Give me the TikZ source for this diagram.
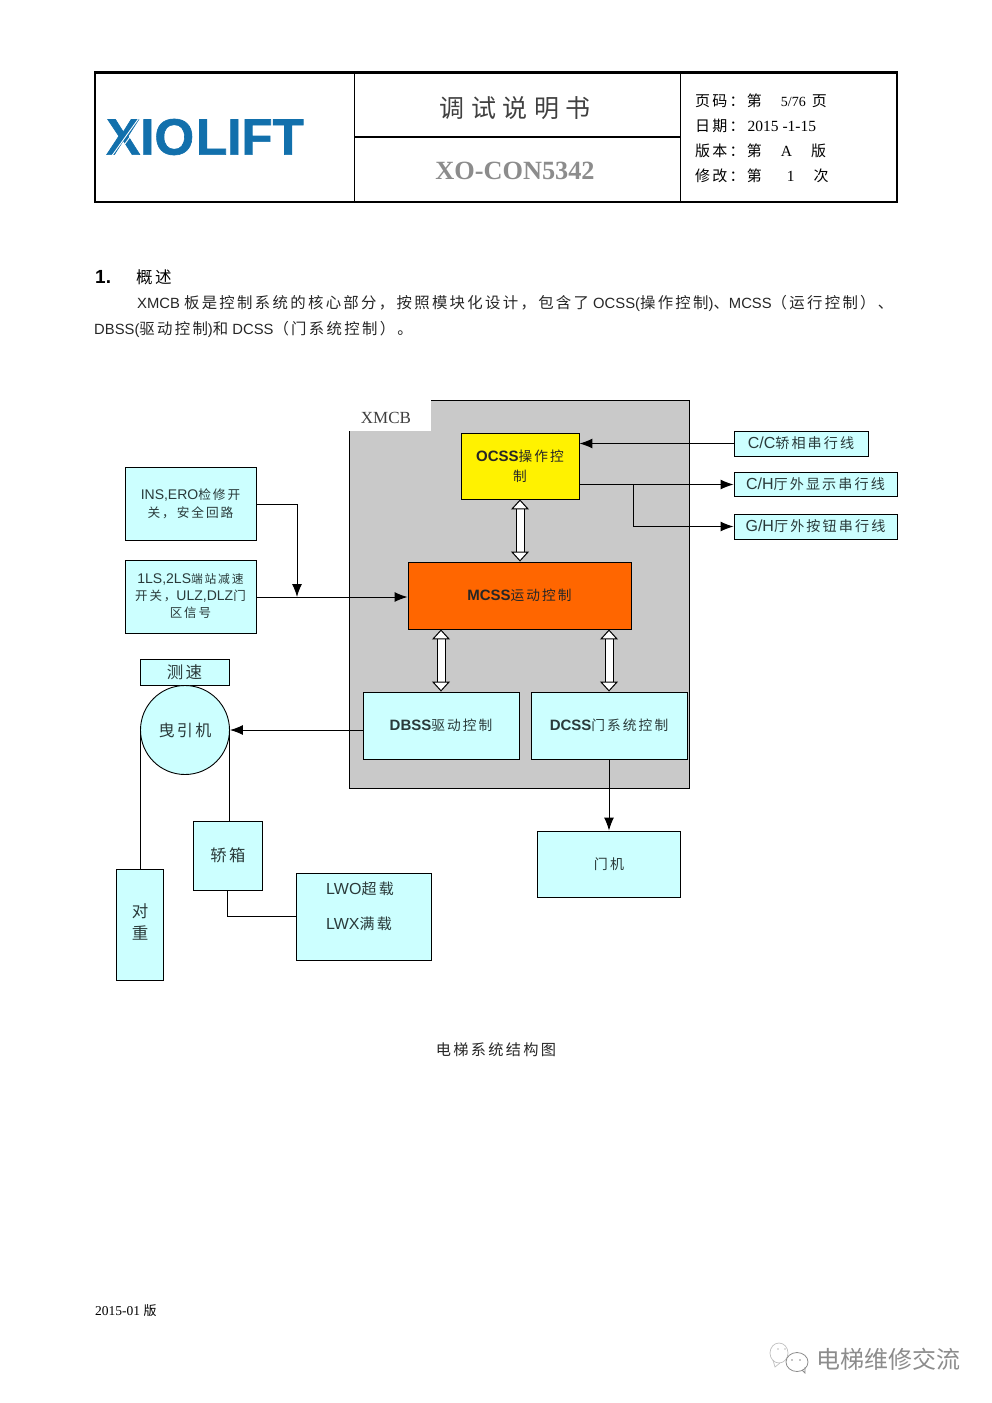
\documentclass[tikz,border=0pt]{standalone}
\usepackage{fontspec}
\usetikzlibrary{arrows.meta,calc}
\setmainfont{Liberation Sans}
\newfontfamily\zhf[LetterSpace=15]{Noto Sans CJK SC}
\newfontfamily\zhn{Noto Sans CJK SC}
\newfontfamily\serf{Liberation Serif}
\newfontfamily\logof[FakeBold=1.2]{Liberation Sans}
\newcommand{\fs}[1]{\fontsize{#1}{#1}\selectfont}
\newcommand{\zh}[2][\zhsize]{{\fs{#1}\zhf #2}}
\newcommand{\zhsize}{15}
\definecolor{lcyan}{HTML}{CCFFFF}
\definecolor{lgray}{HTML}{C9C9C9}
\definecolor{logoblue}{HTML}{1270AC}
\definecolor{ink}{HTML}{2A3A3A}
\definecolor{mcssorange}{HTML}{FF6600}
\tikzset{
  lbox/.style={draw=black,line width=0.9pt,fill=lcyan,inner sep=0pt,align=center,text=ink,font=\fs{15}},
  sigline/.style={draw=black,line width=1pt},
  sig/.style={sigline,-{Latex[length=13pt,width=10pt]}},
  dbl/.style={line width=1pt,double=white,double distance=7pt,{Triangle[length=10pt,width=18pt,fill=white,line width=1pt]}-{Triangle[length=10pt,width=18pt,fill=white,line width=1pt]}},
  txt/.style={inner sep=0pt,anchor=west,text=black},
  hdr/.style={inner sep=0pt,anchor=west,text=black,font=\fs{15.5}\serf},
}
\begin{document}
\begin{tikzpicture}[x=1pt,y=-1pt]
\useasboundingbox (0,0) rectangle (992,1403);
% header
\draw[line width=2pt] (95,72) rectangle (897,202);
\draw[line width=3pt] (94,72) -- (898,72);
\draw[line width=1pt] (354,72) -- (354,202) (680,72) -- (680,202);
\draw[line width=1.6pt] (354,137) -- (680,137);
\node[inner sep=0pt,text=logoblue,font=\fs{51}\logof\bfseries] (logo) at (205,137) {XIO\hspace{2pt}LIFT};
\draw[white,line width=0.9pt] (111,157) -- (139,118) (115.5,157) -- (143.5,118);
\node[inner sep=0pt,font=\fs{25}\zhf,text=black!75] (title) at (515,108) {调\hspace{6.5pt}试\hspace{6.5pt}说\hspace{6.5pt}明\hspace{6.5pt}书};
\node[inner sep=0pt,font=\fs{26.3}\serf\bfseries,text=black!45] (code) at (515,171) {XO-CON5342};
\node[hdr] (h1) at (695,101) {\zh{页码：第}\hspace{19pt}{\fs{14}5/76}\hspace{6pt}\zh{页}};
\node[hdr] (h2) at (695,126) {\zh{日期：}\hspace{3pt}2015 -1-15};
\node[hdr] (h3) at (695,151) {\zh{版本：第}\hspace{19pt}A\hspace{19pt}\zh{版}};
\node[hdr] (h4) at (695,176) {\zh{修改：第}\hspace{25pt}1\hspace{19pt}\zh{次}};
% text
\node[txt,font=\fs{19}\bfseries] (n1) at (95,277) {1.};
\node[txt,font=\fs{16.5}\zhf] (n2) at (136,277) {概述};
\renewcommand{\zhsize}{15.4}
\node[txt,font=\fs{14.8},text=black!85] (p1) at (137,303) {XMCB \zh{板是控制系统的核心部分，按照模块化设计，包含了} OCSS(\zh{操作控制})\zh{、}MCSS\zh{（运行控制）、}};
\node[txt,font=\fs{14.8},text=black!85] (p2) at (94,329) {DBSS(\zh{驱动控制})\zh{和} DCSS\zh{（门系统控制）。}};
% XMCB
\fill[lgray] (349,400) rectangle (689,788);
\draw[line width=0.9pt] (349,431) -- (349,788) -- (689,788) -- (689,400) -- (431,400);
\fill[white] (349,399) rectangle (431,431);
\node[inner sep=0pt,font=\fs{17}\serf,text=black!75] (xmcb) at (386,418) {XMCB};
% boxes
\renewcommand{\zhsize}{13.7}
\node[lbox,fill=yellow,minimum width=118pt,minimum height=66pt,text=black!85] (ocss) at (520,466) {\textbf{OCSS}\zh{操作控}\\[5pt]\zh{制}};
\node[lbox,fill=mcssorange,minimum width=223pt,minimum height=67pt,text=black!85] (mcss) at (519.5,595.5) {\textbf{MCSS}\zh{运动控制}};
\node[lbox,minimum width=156pt,minimum height=67pt] (dbss) at (441,725.5) {\textbf{DBSS}\zh{驱动控制}};
\node[lbox,minimum width=156pt,minimum height=67pt] (dcss) at (609,725.5) {\textbf{DCSS}\zh{门系统控制}};
\node[lbox,minimum width=134pt,minimum height=25pt,font=\fs{16}] (cc) at (801,443.5) {\raisebox{1.5pt}{C/C\zh[14.1]{轿相串行线}}};
\node[lbox,minimum width=163pt,minimum height=24pt,font=\fs{16}] (ch) at (815.5,484.5) {\raisebox{1.5pt}{C/H\zh[14.1]{厅外显示串行线}}};
\node[lbox,minimum width=163pt,minimum height=25pt,font=\fs{16}] (gh) at (815.5,526.5) {\raisebox{1.5pt}{G/H\zh[14.1]{厅外按钮串行线}}};
\node[lbox,minimum width=131pt,minimum height=73pt,font=\fs{14}] (ins) at (190.5,503.5) {INS,ERO\zh[12.7]{检修开}\\[4pt]\zh[12.7]{关，安全回路}};
\node[lbox,minimum width=131pt,minimum height=73pt,font=\fs{14}] (ls) at (190.5,596.5) {1LS,2LS\zh[11.8]{端站减速}\\[3pt]\zh[12.5]{开关，}ULZ,DLZ\zh[12.5]{门}\\[3pt]\zh[12.5]{区信号}};
\node[lbox,minimum width=89pt,minimum height=26pt] (cs) at (184.5,672) {\zh[16.5]{测速}};
\node[lbox,circle,minimum size=89pt] (motor) at (185,730) {\zh[16]{曳引机}};
\node[lbox,minimum width=69pt,minimum height=69pt] (jx) at (228,855.5) {\zh[16.3]{轿箱}};
\node[lbox,minimum width=47pt,minimum height=111pt] (dz) at (140,924.5) {\zh[16.5]{对}\\[6pt]\zh[16.5]{重}\\[-10pt]\mbox{}};
\node[lbox,minimum width=135pt,minimum height=87pt] (lw) at (364,916.5) {};
\node[inner sep=0pt,font=\fs{16},text=ink] (lw1) at (360,889) {LWO\zh[15]{超载}};
\node[inner sep=0pt,font=\fs{16},text=ink] (lw2) at (359,924) {LWX\zh[15]{满载}};
\node[lbox,minimum width=143pt,minimum height=66pt] (mj) at (609,864) {\zh[14]{门机}};
% connectors
\draw[sig] (cc.west) -- (cc.west -| ocss.east);
\draw[sig] (ocss.east |- ch.west) -- (ch.west);
\coordinate (br) at (633,485);
\draw[sig] (br) |- (gh.west);
\coordinate (ins1) at (297,504);
\coordinate (ins2) at (297,597);
\draw[sig] (ins.east |- ins1) -- (ins1) -- (ins2);
\draw[sig] (ls.east |- ins2) -- (mcss.west |- ins2);
\draw[sig] (dbss.west |- motor.east) -- (motor.east);
\draw[sigline] (motor.west) -- (motor.west |- dz.north);
\draw[sigline] (motor.east) -- (motor.east |- jx.north);
\coordinate (jb) at (227,890);
\draw[sigline] (jb) |- (lw.west);
\draw[sig] (dcss.south) -- (mj.north);
\draw[dbl] (ocss.south) -- (ocss.south |- mcss.north);
\draw[dbl] (dbss.north |- mcss.south) -- (dbss.north);
\draw[dbl] (dcss.north |- mcss.south) -- (dcss.north);
% caption
\node[inner sep=0pt,font=\fs{15.2}\zhf,text=black!85] (cap) at (496,1050) {电梯系统结构图};
\node[txt,font=\fs{13.5}\serf] (foot) at (95,1311) {2015-01 \zh[13]{版}};
% watermark
\node[inner sep=0pt,font=\fs{24}\zhn,text=black!45] (wm) at (888,1359) {电梯维修交流};
\draw[black!25,line width=0.7pt] (779,1353) ellipse [x radius=9pt,y radius=10pt];
\draw[black!25,line width=0.7pt] (773,1360) -- (775,1367) -- (780,1363);
\draw[black!45,fill=white,line width=0.8pt] (797,1362) ellipse [x radius=11pt,y radius=9.5pt];
\draw[black!45,line width=0.8pt] (802,1370) -- (805,1373) -- (805,1367);
\fill[black!45] (792,1360) circle (0.8) (800,1360) circle (0.8);
\fill[black!25] (778,1349) circle (0.8) (785,1349) circle (0.8);
\end{tikzpicture}
\end{document}
